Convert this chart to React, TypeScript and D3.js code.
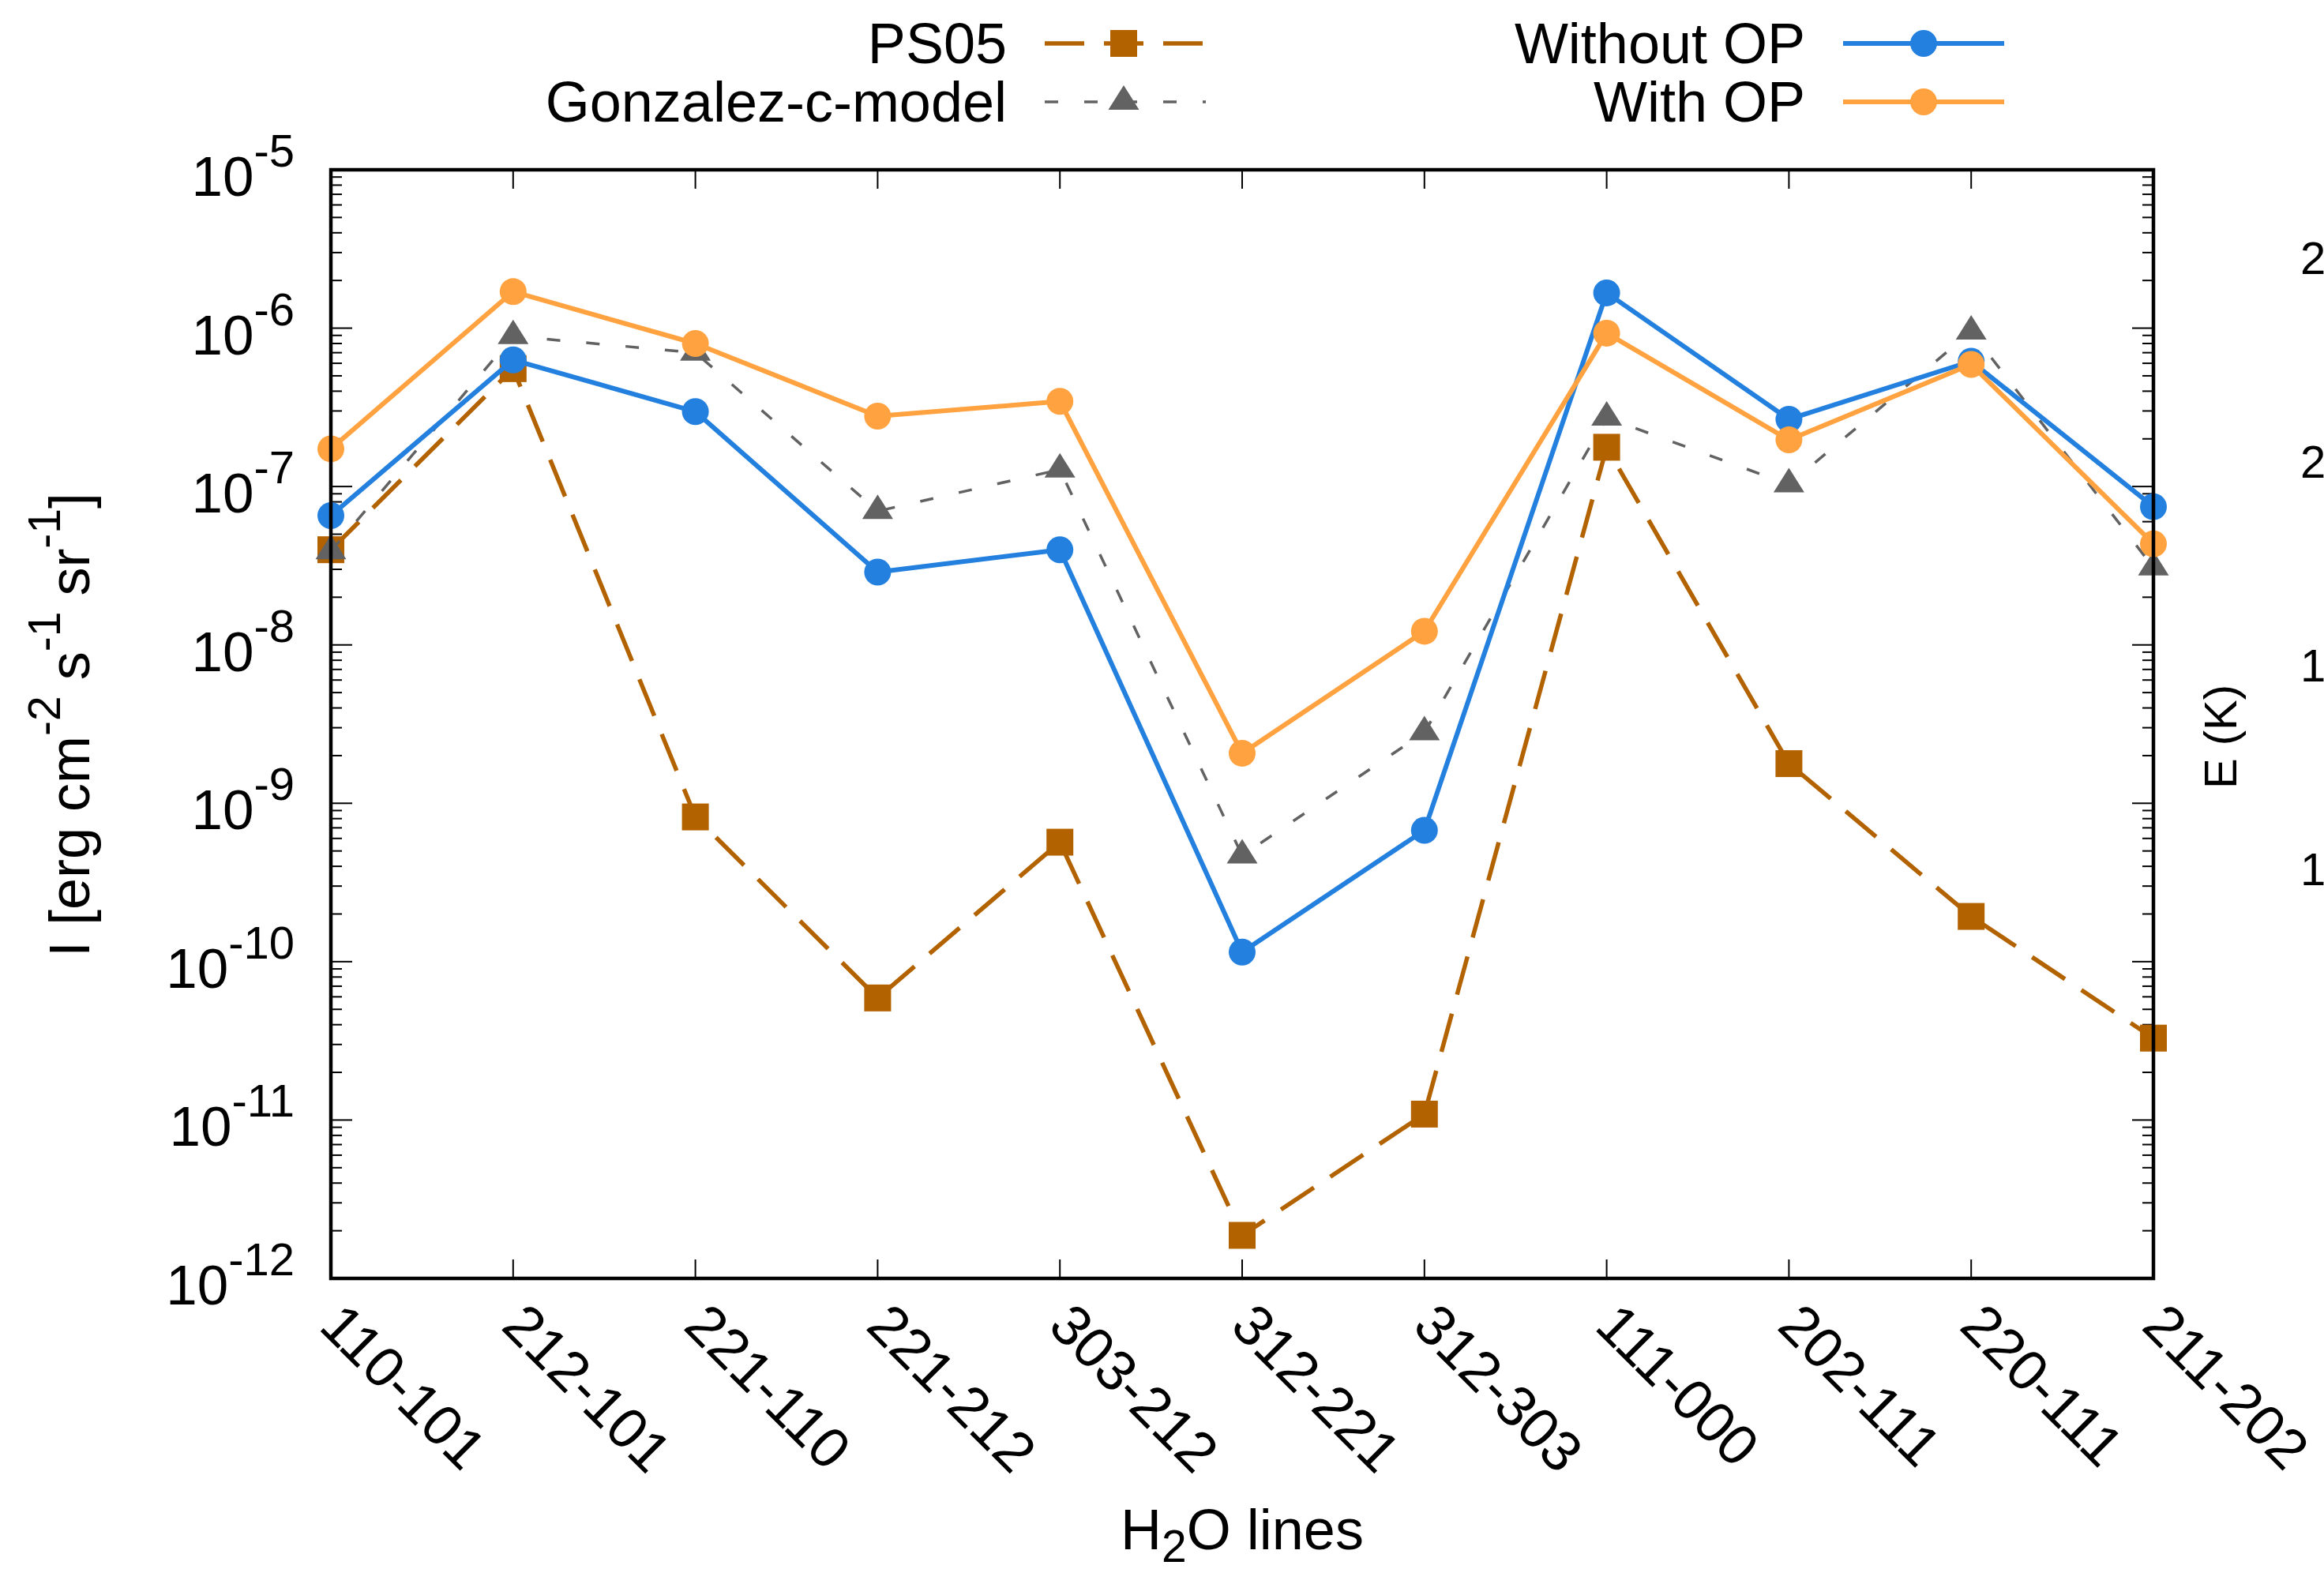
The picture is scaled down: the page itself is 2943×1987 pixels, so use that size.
import React from 'react';
import * as d3 from 'd3';

// H2O transitions on the x axis
const categories = [
  '110-101', '212-101', '221-110', '221-212', '303-212', '312-221',
  '312-303', '111-000', '202-111', '220-111', '211-202',
];

// intensities, erg cm^-2 s^-1 sr^-1
const ps05 = [3.99e-8, 5.55e-7, 8.2e-10, 5.9e-11, 5.68e-10, 1.87e-12, 1.09e-11, 1.77e-7, 1.78e-9, 1.93e-10, 3.29e-11];
const gonzalez = [3.9e-8, 8.9e-7, 7.0e-7, 6.99e-8, 1.28e-7, 4.68e-10, 2.8e-9, 2.72e-7, 1.03e-7, 9.5e-7, 3.08e-8];
const withoutOP = [6.55e-8, 6.3e-7, 2.97e-7, 2.88e-8, 3.99e-8, 1.15e-10, 6.75e-10, 1.67e-6, 2.66e-7, 6.18e-7, 7.46e-8];
const withOP = [1.73e-7, 1.7e-6, 8.0e-7, 2.78e-7, 3.45e-7, 2.07e-9, 1.22e-8, 9.3e-7, 1.97e-7, 5.9e-7, 4.35e-8];

const yExponents = [-5, -6, -7, -8, -9, -10, -11, -12];
// right-hand axis labels (only partly inside the picture)
const eTicks = [250, 200, 150, 100];

const W = 2943;
const H = 1987;
const FONT = '"Liberation Sans", Arial, Helvetica, sans-serif';

const BLUE = '#2380de';
const ORANGE = '#ffa23f';
const BROWN = '#b36200';
const GRAY = '#626262';

const x = d3.scalePoint<string>().domain(categories).range([419, 2727]);
const y = d3.scaleLog().domain([1e-12, 1e-5]).range([1619, 215]);
const yE = d3.scaleLinear().domain([100, 250]).range([1121, 347]);

const line = d3
  .line<number>()
  .x((_, i) => x(categories[i]) as number)
  .y((d) => y(d));

const minorTicks: number[] = [];
yExponents.slice(1).forEach((e) => {
  for (let k = 2; k <= 9; k++) minorTicks.push(k * Math.pow(10, e));
});

const Marker = ({ kind, cx, cy, color }: { kind: string; cx: number; cy: number; color: string }) => {
  if (kind === 'circle') return <circle cx={cx} cy={cy} r={17} fill={color} />;
  if (kind === 'square') return <rect x={cx - 17} y={cy - 17} width={34} height={34} fill={color} />;
  return (
    <path
      d={`M${cx},${cy - 21} L${cx + 19.5},${cy + 10} L${cx - 19.5},${cy + 10} Z`}
      fill={color}
    />
  );
};

const series = [
  { name: 'PS05', data: ps05, color: BROWN, width: 5.5, dash: '50 25', marker: 'square' },
  { name: 'Gonzalez-c-model', data: gonzalez, color: GRAY, width: 3.5, dash: '17 33', marker: 'triangle' },
  { name: 'Without OP', data: withoutOP, color: BLUE, width: 6, dash: undefined, marker: 'circle' },
  { name: 'With OP', data: withOP, color: ORANGE, width: 6, dash: undefined, marker: 'circle' },
];

const App = () => {
  const [x0, x1] = x.range();
  const [y0, y1] = y.range();

  return (
    <svg
      width={W}
      height={H}
      style={{ position: 'absolute', left: 0, top: 0, background: '#fff' }}
      fontFamily={FONT}
    >
      <rect width={W} height={H} fill="#fff" />

      {/* y ticks, both sides */}
      {yExponents.map((e) => (
        <g key={e}>
          <line x1={x0} x2={x0 + 27} y1={y(Math.pow(10, e))} y2={y(Math.pow(10, e))} stroke="#000" strokeWidth={2} />
          <line x1={x1} x2={x1 - 27} y1={y(Math.pow(10, e))} y2={y(Math.pow(10, e))} stroke="#000" strokeWidth={2} />
        </g>
      ))}
      {minorTicks.map((v, i) => (
        <g key={i}>
          <line x1={x0} x2={x0 + 14} y1={y(v)} y2={y(v)} stroke="#000" strokeWidth={2} />
          <line x1={x1} x2={x1 - 14} y1={y(v)} y2={y(v)} stroke="#000" strokeWidth={2} />
        </g>
      ))}

      {/* x ticks, bottom and top */}
      {categories.map((c) => (
        <g key={c}>
          <line x1={x(c)} x2={x(c)} y1={y0} y2={y0 - 24} stroke="#000" strokeWidth={2} />
          <line x1={x(c)} x2={x(c)} y1={y1} y2={y1 + 24} stroke="#000" strokeWidth={2} />
        </g>
      ))}

      {/* y tick labels */}
      {yExponents.map((e) => (
        <text key={e} x={373} y={y(Math.pow(10, e)) + 33} textAnchor="end" fontSize={71}>
          <tspan>10</tspan>
          <tspan fontSize={58} dy={-37}>{String(e)}</tspan>
        </text>
      ))}

      {/* x tick labels */}
      {categories.map((c) => (
        <text
          key={c}
          transform={`translate(${(x(c) as number) - 17},${y0 + 63}) rotate(45)`}
          fontSize={72}
        >
          {c}
        </text>
      ))}

      {/* series */}
      {series.map((s) => (
        <g key={s.name}>
          <path
            d={line(s.data) || ''}
            fill="none"
            stroke={s.color}
            strokeWidth={s.width}
            strokeDasharray={s.dash}
            strokeLinejoin="round"
          />
          {s.data.map((v, i) => (
            <Marker key={i} kind={s.marker} cx={x(categories[i]) as number} cy={y(v)} color={s.color} />
          ))}
        </g>
      ))}

      {/* frame */}
      <rect x={x0} y={y1} width={x1 - x0} height={y0 - y1} fill="none" stroke="#000" strokeWidth={4.5} />

      {/* axis titles */}
      <text transform={`translate(113,918) rotate(-90)`} textAnchor="middle" fontSize={72}>
        <tspan>I [erg cm</tspan>
        <tspan fontSize={57} dy={-37}>-2</tspan>
        <tspan dy={37}> s</tspan>
        <tspan fontSize={57} dy={-37}>-1</tspan>
        <tspan dy={37}> sr</tspan>
        <tspan fontSize={57} dy={-37}>-1</tspan>
        <tspan dy={37}>]</tspan>
      </text>
      <text x={1573} y={1962} textAnchor="middle" fontSize={72}>
        <tspan>H</tspan>
        <tspan fontSize={57} dy={16}>2</tspan>
        <tspan dy={-16}>O lines</tspan>
      </text>

      {/* right-hand axis (cut by the picture edge) */}
      {eTicks.map((t) => (
        <text key={t} x={2913} y={yE(t)} fontSize={58}>
          {t}
        </text>
      ))}
      <text transform={`translate(2832,933) rotate(-90)`} textAnchor="middle" fontSize={58}>
        E (K)
      </text>

      {/* legend */}
      {series.map((s, i) => {
        const col = Math.floor(i / 2);
        const row = i % 2;
        const textX = col === 0 ? 1275 : 2286;
        const lx0 = col === 0 ? 1323 : 2334;
        const lx1 = col === 0 ? 1527 : 2538;
        const cy = row === 0 ? 55 : 129;
        return (
          <g key={s.name}>
            <text x={textX} y={cy + 25} textAnchor="end" fontSize={72}>
              {s.name}
            </text>
            <line x1={lx0} x2={lx1} y1={cy} y2={cy} stroke={s.color} strokeWidth={s.width} strokeDasharray={s.dash} />
            <Marker kind={s.marker} cx={(lx0 + lx1 - (col === 0 ? 4 : 0)) / 2} cy={cy} color={s.color} />
          </g>
        );
      })}
    </svg>
  );
};

export default App;
